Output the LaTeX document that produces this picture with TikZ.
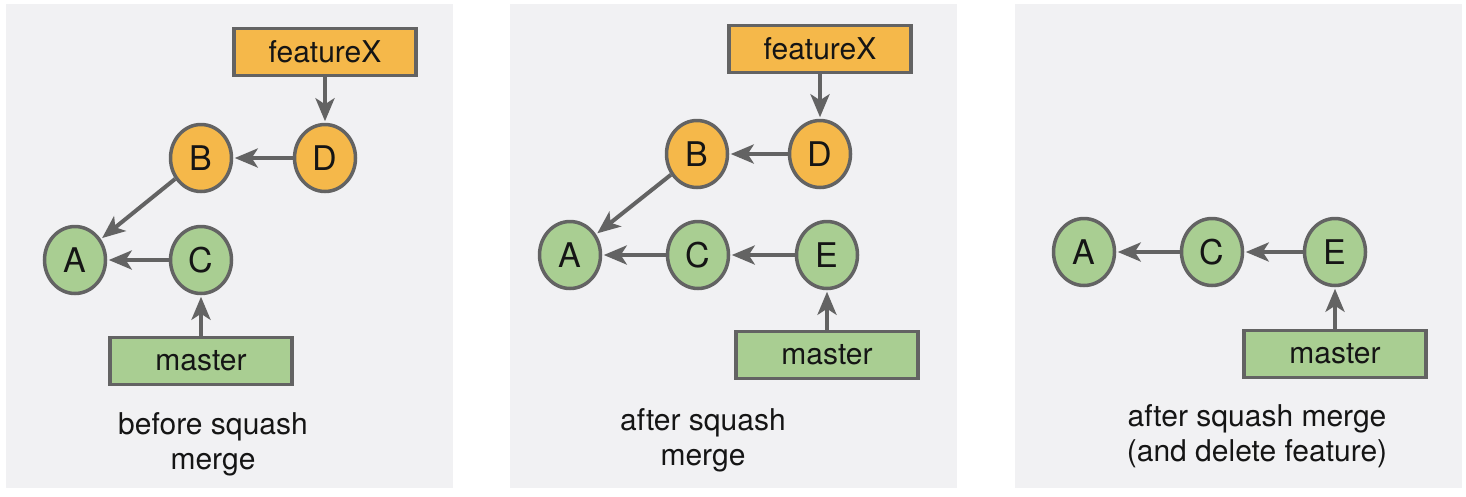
\documentclass[tikz,border=0pt]{standalone}
\usepackage{fontspec}
\setmainfont{TeX Gyre Heros}
\usetikzlibrary{shapes.geometric,arrows.meta}
\definecolor{panelbg}{HTML}{F1F1F3}
\definecolor{orangefill}{HTML}{F5B84A}
\definecolor{greenfill}{HTML}{A9CE92}
\definecolor{edgegray}{HTML}{636363}
\definecolor{txt}{HTML}{151515}
\tikzset{
  commit/.style={ellipse, draw=edgegray, line width=3.5pt, minimum width=61pt, minimum height=67pt, inner sep=0pt, font=\fontsize{34}{34}\selectfont, text=txt},
  ocommit/.style={commit, fill=orangefill},
  gcommit/.style={commit, fill=greenfill},
  branchbox/.style={rectangle, draw=edgegray, line width=3.5pt, minimum width=182pt, minimum height=47pt, inner sep=0pt, font=\fontsize{30}{30}\selectfont, text=txt},
  obranch/.style={branchbox, fill=orangefill},
  gbranch/.style={branchbox, fill=greenfill},
  link/.style={draw=edgegray, line width=4pt, shorten >=1.5pt, -{Stealth[length=23pt,width=19pt,inset=6pt]}},
  caption/.style={align=center, font=\fontsize{30}{35}\selectfont, text=txt},
  panel/.style={fill=panelbg, draw=none}
}
\begin{document}
\begin{tikzpicture}[x=1pt,y=-1pt]
\useasboundingbox (0,0) rectangle (1466,496);
\fill[white] (0,0) rectangle (1466,496);
% panels
\path[panel] (6,4) rectangle (453,488);
\path[panel] (510,4) rectangle (957,488);
\path[panel] (1015,4) rectangle (1462,488);

% Panel 1
\node[obranch] (f1) at (325,52) {featureX};
\node[ocommit] (B1) at (201,158) {B};
\node[ocommit] (D1) at (325,158) {D};
\node[gcommit] (A1) at (75,260) {A};
\node[gcommit] (C1) at (201,260) {C};
\node[gbranch] (m1) at (201,361) {master};
\draw[link] (f1) -- (D1);
\draw[link] (D1) -- (B1);
\draw[link] (B1) -- (A1);
\draw[link] (C1) -- (A1);
\draw[link] (m1) -- (C1);
\node[caption] (cap1) at (213,444) {before squash\\merge};

% Panel 2
\node[obranch] (f2) at (820,49) {featureX};
\node[ocommit] (B2) at (697,154) {B};
\node[ocommit] (D2) at (820,154) {D};
\node[gcommit] (A2) at (570,255) {A};
\node[gcommit] (C2) at (698,255) {C};
\node[gcommit] (E2) at (827,255) {E};
\node[gbranch] (m2) at (827,355) {master};
\draw[link] (f2) -- (D2);
\draw[link] (D2) -- (B2);
\draw[link] (B2) -- (A2);
\draw[link] (C2) -- (A2);
\draw[link] (E2) -- (C2);
\draw[link] (m2) -- (E2);
\node[caption] (cap2) at (703,440) {after squash\\merge};

% Panel 3
\node[gcommit] (A3) at (1084,252) {A};
\node[gcommit] (C3) at (1212,252) {C};
\node[gcommit] (E3) at (1335,252) {E};
\node[gbranch] (m3) at (1335,354) {master};
\draw[link] (C3) -- (A3);
\draw[link] (E3) -- (C3);
\draw[link] (m3) -- (E3);
\node[caption] (cap3) at (1257,436) {after squash merge\\(and delete feature)};
\end{tikzpicture}
\end{document}
